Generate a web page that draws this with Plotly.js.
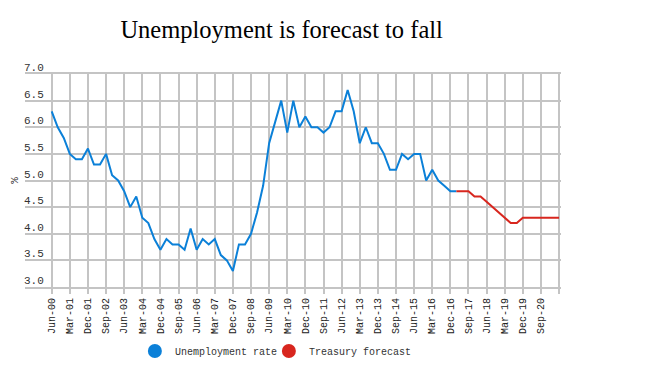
<!DOCTYPE html>
<html>
<head>
<meta charset="utf-8">
<script src="https://cdn.plot.ly/plotly-3.0.1.min.js"></script>
<style>html,body{margin:0;padding:0;background:#fff}#chart{width:655px;height:374px}</style>
</head>
<body>
<div id="chart"></div>
<script>
const quarters = [
 "Jun-00","Sep-00","Dec-00",
 "Mar-01","Jun-01","Sep-01","Dec-01",
 "Mar-02","Jun-02","Sep-02","Dec-02",
 "Mar-03","Jun-03","Sep-03","Dec-03",
 "Mar-04","Jun-04","Sep-04","Dec-04",
 "Mar-05","Jun-05","Sep-05","Dec-05",
 "Mar-06","Jun-06","Sep-06","Dec-06",
 "Mar-07","Jun-07","Sep-07","Dec-07",
 "Mar-08","Jun-08","Sep-08","Dec-08",
 "Mar-09","Jun-09","Sep-09","Dec-09",
 "Mar-10","Jun-10","Sep-10","Dec-10",
 "Mar-11","Jun-11","Sep-11","Dec-11",
 "Mar-12","Jun-12","Sep-12","Dec-12",
 "Mar-13","Jun-13","Sep-13","Dec-13",
 "Mar-14","Jun-14","Sep-14","Dec-14",
 "Mar-15","Jun-15","Sep-15","Dec-15",
 "Mar-16","Jun-16","Sep-16","Dec-16",
 "Mar-17","Jun-17","Sep-17","Dec-17",
 "Mar-18","Jun-18","Sep-18","Dec-18",
 "Mar-19","Jun-19","Sep-19","Dec-19",
 "Mar-20","Jun-20","Sep-20","Dec-20",
 "Mar-21","Jun-21"
];
const unemploymentQuarters = quarters.slice(0, 68);
const unemploymentRate = [
 6.3,6.0,5.8,5.5,5.4,5.4,5.6,5.3,5.3,5.5,
 5.1,5.0,4.8,4.5,4.7,4.3,4.2,3.9,3.7,3.9,
 3.8,3.8,3.7,4.1,3.7,3.9,3.8,3.9,3.6,3.5,
 3.3,3.8,3.8,4.0,4.4,4.9,5.7,6.1,6.5,5.9,
 6.5,6.0,6.2,6.0,6.0,5.9,6.0,6.3,6.3,6.7,
 6.3,5.7,6.0,5.7,5.7,5.5,5.2,5.2,5.5,5.4,
 5.5,5.5,5.0,5.2,5.0,4.9,4.8,4.8
];
const forecastQuarters = quarters.slice(67);
const treasuryForecast = [
 4.8,4.8,4.8,4.7,4.7,4.6,4.5,4.4,4.3,4.2,
 4.2,4.3,4.3,4.3,4.3,4.3,4.3,4.3
];
const tickLabels = [
 "Jun-00","Mar-01","Dec-01","Sep-02","Jun-03","Mar-04","Dec-04","Sep-05",
 "Jun-06","Mar-07","Dec-07","Sep-08","Jun-09","Mar-10","Dec-10","Sep-11",
 "Jun-12","Mar-13","Dec-13","Sep-14","Jun-15","Mar-16","Dec-16","Sep-17",
 "Jun-18","Mar-19","Dec-19","Sep-20"
];
const yTicks = [3.0, 3.5, 4.0, 4.5, 5.0, 5.5, 6.0, 6.5, 7.0];
const seriesNames = ["Unemployment rate", "Treasury forecast"];
const blue = "#0b80d8", red = "#d8261e", grid = "#c4c4c4";
const mono = "Liberation Mono, DejaVu Sans Mono, monospace";

const traces = [
 {x: unemploymentQuarters, y: unemploymentRate, type: "scatter", mode: "lines",
  line: {color: blue, width: 2}, showlegend: false, hoverinfo: "skip"},
 {x: forecastQuarters, y: treasuryForecast, type: "scatter", mode: "lines",
  line: {color: red, width: 2}, showlegend: false, hoverinfo: "skip"},
 {x: [null], y: [null], type: "scatter", mode: "markers", name: seriesNames[0],
  legend: "legend", marker: {color: blue, size: 14}},
 {x: [null], y: [null], type: "scatter", mode: "markers", name: seriesNames[1],
  legend: "legend2", marker: {color: red, size: 14}}
];

const yLabelAnns = yTicks.map(v => ({
 text: v.toFixed(1), xref: "paper", yref: "y", x: 0, y: v, xanchor: "left", yanchor: "bottom",
 showarrow: false, xshift: -3, yshift: -2, font: {family: mono, size: 11, color: "#333"}
}));

const legendFont = {family: mono, size: 10, color: "#333"};
const layout = {
 width: 655, height: 374,
 margin: {l: 25, r: 94, t: 74, b: 87},
 paper_bgcolor: "#fff", plot_bgcolor: "#fff",
 title: {text: "Unemployment is forecast to fall", x: 0.43, xanchor: "center",
  y: 0.922, yanchor: "middle", yref: "container",
  font: {family: "Liberation Serif, serif", size: 24.5, color: "#000"}},
 xaxis: {type: "category", categoryorder: "array", categoryarray: quarters,
  range: [-4.42, 84.32], tickvals: tickLabels.concat(["Jun-21"]),
  ticktext: tickLabels.concat([""]), tickangle: -90,
  showgrid: true, gridcolor: grid, gridwidth: 2,
  showline: true, mirror: true, linecolor: grid, linewidth: 2,
  ticks: "outside", ticklen: 5, tickcolor: grid, tickwidth: 2,
  tickfont: {family: mono, size: 10, color: "#222"}, zeroline: false, fixedrange: true},
 yaxis: {range: [3, 7], tickvals: yTicks, showticklabels: false,
  showgrid: true, gridcolor: grid, gridwidth: 2,
  showline: false, zeroline: false, ticks: "", fixedrange: true},
 legend: {orientation: "h", x: 0.205, xanchor: "left", yref: "container", y: 0.0615, yanchor: "middle",
  font: legendFont, bgcolor: "rgba(0,0,0,0)"},
 legend2: {orientation: "h", x: 0.455, xanchor: "left", yref: "container", y: 0.0615, yanchor: "middle",
  font: legendFont, bgcolor: "rgba(0,0,0,0)"},
 annotations: [{text: "%", xref: "paper", yref: "paper", x: -0.035, y: 0.5,
  showarrow: false, textangle: -90, font: {family: mono, size: 11, color: "#333"}}].concat(yLabelAnns),
 showlegend: true
};
Plotly.newPlot("chart", traces, layout, {displayModeBar: false, staticPlot: true});
</script>
</body>
</html>
